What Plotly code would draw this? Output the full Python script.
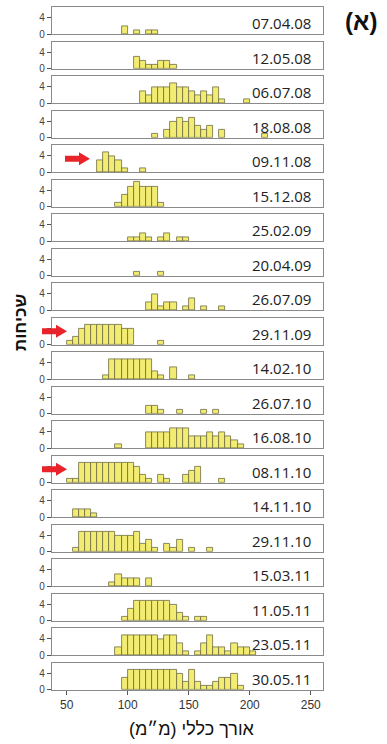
import plotly.graph_objects as go

# ---- data: histogram counts per sampling date, (bin start in mm, count), bin width 5 mm ----
dates = ["07.04.08", "12.05.08", "06.07.08", "18.08.08", "09.11.08",
         "15.12.08", "25.02.09", "20.04.09", "26.07.09", "29.11.09",
         "14.02.10", "26.07.10", "16.08.10", "08.11.10", "14.11.10",
         "29.11.10", "15.03.11", "11.05.11", "23.05.11", "30.05.11"]

p01 = [(95, 2), (105, 1), (115, 1), (120, 1)]
p02 = [(105, 3), (110, 2), (115, 1), (120, 1), (125, 2), (130, 2), (135, 1)]
p03 = [(110, 3), (115, 2), (120, 4), (125, 4), (130, 4), (135, 5), (140, 4), (145, 4),
       (150, 3), (155, 2), (160, 3), (165, 2), (170, 4), (175, 1), (195, 1)]
p04 = [(120, 1), (130, 2), (135, 4), (140, 5), (145, 4), (150, 5), (155, 3), (160, 2),
       (165, 3), (175, 2), (210, 1)]
p05 = [(75, 3), (80, 5), (85, 4), (90, 3), (95, 1), (110, 1)]
p06 = [(90, 1), (95, 3), (100, 5), (105, 6), (110, 5), (115, 5), (120, 5), (125, 1)]
p07 = [(100, 1), (105, 1), (110, 2), (115, 1), (125, 1), (130, 2), (140, 1), (145, 1)]
p08 = [(105, 1), (125, 1)]
p09 = [(115, 2), (120, 4), (125, 1), (130, 2), (135, 2), (145, 1), (150, 3), (160, 1), (175, 1)]
p10 = [(50, 1), (55, 2), (60, 4), (65, 5), (70, 5), (75, 5), (80, 5), (85, 5), (90, 5),
       (95, 4), (100, 4), (125, 1)]
p11 = [(80, 1), (85, 5), (90, 5), (95, 5), (100, 5), (105, 5), (110, 5), (115, 5),
       (120, 2), (125, 1), (135, 3), (150, 1)]
p12 = [(115, 2), (120, 2), (125, 1), (140, 1), (160, 1), (170, 1)]
p13 = [(90, 1), (115, 4), (120, 4), (125, 4), (130, 4), (135, 5), (140, 5), (145, 5),
       (150, 3), (155, 3), (160, 3), (165, 4), (170, 3), (175, 4), (180, 3), (185, 2), (190, 1)]
p14 = [(50, 1), (55, 1), (60, 5), (65, 5), (70, 5), (75, 5), (80, 5), (85, 5), (90, 5),
       (95, 5), (100, 5), (105, 4), (110, 2), (115, 1), (125, 2), (130, 1), (145, 2),
       (150, 3), (155, 4), (175, 1)]
p15 = [(55, 2), (60, 2), (65, 2), (70, 1)]
p16 = [(55, 1), (60, 5), (65, 5), (70, 5), (75, 5), (80, 5), (85, 5), (90, 4), (95, 4),
       (100, 4), (105, 5), (110, 2), (115, 3), (120, 1), (130, 2), (135, 1), (140, 3),
       (150, 1), (165, 1)]
p17 = [(85, 1), (90, 3), (95, 2), (100, 2), (105, 2), (115, 2)]
p18 = [(95, 1), (100, 3), (105, 5), (110, 5), (115, 5), (120, 5), (125, 5), (130, 5),
       (135, 4), (140, 2), (145, 1), (155, 1), (160, 1)]
p19 = [(90, 2), (95, 5), (100, 5), (105, 5), (110, 5), (115, 5), (120, 5), (125, 4),
       (130, 5), (135, 5), (140, 3), (145, 1), (155, 1), (160, 3), (165, 5), (170, 2),
       (175, 2), (180, 1), (185, 3), (190, 2), (195, 2), (200, 1)]
p20 = [(95, 3), (100, 5), (105, 5), (110, 5), (115, 5), (120, 5), (125, 5), (130, 5),
       (135, 5), (140, 4), (145, 2), (150, 5), (155, 2), (160, 1), (165, 1), (170, 2),
       (175, 3), (180, 3), (185, 4), (190, 1)]

panels = [p01, p02, p03, p04, p05, p06, p07, p08, p09, p10,
          p11, p12, p13, p14, p15, p16, p17, p18, p19, p20]
bin_width = 5
x_ticks = [50, 100, 150, 200, 250]
y_ticks = [0, 4]
arrow_panels = [5, 10, 14]

x_title = "\u200fאורך כללי (מ״מ)\u200f"
y_title = "שכיחות"
panel_tag = "(א)"

# ---- layout geometry (pixels) ----
W, H = 387, 744
ML, MR, MT, MB = 52, 64, 7, 54
PW, PH = W - ML - MR, H - MT - MB
first_top = 7.3
pitch = 34.5
panel_h = 27.0


def xp(px):
    return (px - ML) / PW


def yp(py):
    return 1 - (py - MT) / PH


FILL = "#F2EC72"
EDGE = "#6f6c40"
FRAME = "#8a8a8a"
FONT = "Liberation Sans, Arial, DejaVu Sans, sans-serif"

fig = go.Figure()
n = len(panels)
annotations = []
shapes = []
for i, p in enumerate(panels):
    k = i + 1
    fig.add_trace(go.Bar(
        x=[b + bin_width / 2 for b, _ in p],
        y=[c for _, c in p],
        width=bin_width,
        marker=dict(color=FILL, line=dict(color=EDGE, width=0.8)),
        xaxis=f"x{k}", yaxis=f"y{k}", showlegend=False, hoverinfo="skip",
    ))
    top = first_top + i * pitch
    bot = top + panel_h
    dom = [yp(bot), yp(top)]
    last = (k == n)
    fig.layout[f"xaxis{k}"] = dict(
        domain=[0, 1], anchor=f"y{k}", range=[38, 260],
        showline=True, mirror=True, linecolor=FRAME, linewidth=1.2,
        showgrid=False, zeroline=False,
        tickvals=x_ticks if last else [],
        ticks="outside" if last else "", ticklen=4, tickcolor="#555",
        showticklabels=last,
        tickfont=dict(family=FONT, size=12, color="#333"),
        fixedrange=True,
    )
    hide4 = k in arrow_panels and k != 5
    ticktext = ["0", "" if hide4 else "4"]
    fig.layout[f"yaxis{k}"] = dict(
        domain=dom, anchor=f"x{k}", range=[0, 6.6],
        showline=True, mirror=True, linecolor=FRAME, linewidth=1.2,
        showgrid=False, zeroline=False,
        tickvals=y_ticks, ticktext=ticktext,
        ticks="outside", ticklen=4, tickcolor="#555",
        tickfont=dict(family=FONT, size=10, color="#444"),
        fixedrange=True,
    )
    annotations.append(dict(
        text=dates[i], xref="paper", yref="paper",
        x=xp(313), y=yp((top + bot) / 2 + 2.5), xanchor="right", yanchor="middle",
        showarrow=False, font=dict(family="Open Sans, " + FONT, size=15, color="#222"),
    ))
    if k in arrow_panels:
        x1 = 90 if k == 5 else 67
        x0 = x1 - 25
        xh = x1 - 11
        yc = top + 13.5
        pts = [(x0, yc - 3), (xh, yc - 3), (xh, yc - 6.5), (x1, yc), (xh, yc + 6.5),
               (xh, yc + 3), (x0, yc + 3)]
        path = "M " + " L ".join(f"{xp(a):.5f},{yp(b):.5f}" for a, b in pts) + " Z"
        shapes.append(dict(type="path", path=path, xref="paper", yref="paper",
                           fillcolor="#E8242A", line=dict(width=0), layer="above"))

annotations.append(dict(
    text="<b>" + y_title + "</b>", xref="paper", yref="paper", x=xp(20), y=yp(323),
    xanchor="center", yanchor="middle", textangle=-90, showarrow=False,
    font=dict(family=FONT, size=17, color="#111"),
))
annotations.append(dict(
    text=x_title, xref="paper", yref="paper", x=xp(192), y=yp(729),
    xanchor="center", yanchor="middle", showarrow=False,
    font=dict(family=FONT, size=18, color="#111"),
))
annotations.append(dict(
    text="<b>" + panel_tag + "</b>", xref="paper", yref="paper", x=xp(361), y=yp(22),
    xanchor="center", yanchor="middle", showarrow=False,
    font=dict(family=FONT, size=24, color="#111"),
))

fig.update_layout(
    width=W, height=H,
    margin=dict(l=ML, r=MR, t=MT, b=MB, pad=0),
    paper_bgcolor="white", plot_bgcolor="white",
    bargap=0, annotations=annotations, shapes=shapes,
    showlegend=False,
)

fig.write_html("out.html", config={"displayModeBar": False})
